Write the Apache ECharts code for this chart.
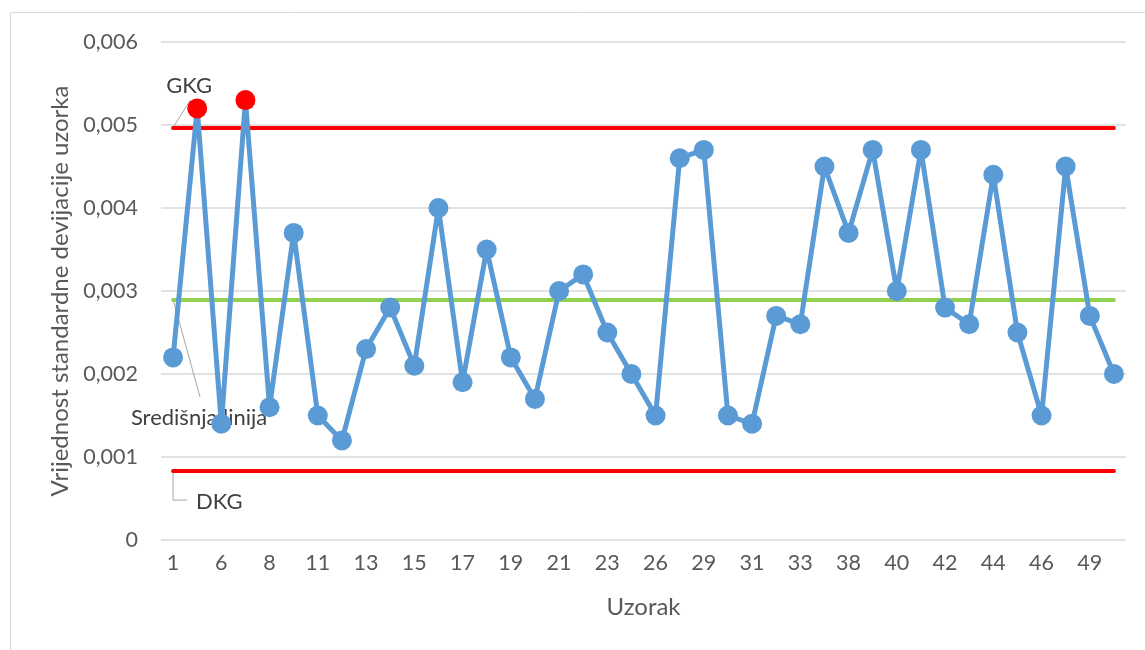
<!DOCTYPE html>
<html>
<head>
<meta charset="utf-8">
<script src="https://cdn.jsdelivr.net/npm/echarts@6/dist/echarts.min.js"></script>
<style>
  html, body { margin: 0; padding: 0; background: #fff; }
  #chart { width: 1145px; height: 650px; }
</style>
</head>
<body>
<div id="chart"></div>
<script>
// sample ids on the x axis (only every other one is labelled)
const categories = ['1', '3', '6', '7', '8', '10', '11', '12', '13', '14', '15', '16', '17', '18', '19', '20',
  '21', '22', '23', '24', '26', '27', '29', '30', '31', '32', '33', '35', '38', '39', '40', '41', '42', '43',
  '44', '45', '46', '47', '49', '50']
// standard deviation per sample
const stdDev = [0.0022, 0.0052, 0.0014, 0.0053, 0.0016, 0.0037, 0.0015, 0.0012, 0.0023, 0.0028, 0.0021, 0.0040,
  0.0019, 0.0035, 0.0022, 0.0017, 0.0030, 0.0032, 0.0025, 0.0020, 0.0015, 0.0046, 0.0047, 0.0015, 0.0014,
  0.0027, 0.0026, 0.0045, 0.0037, 0.0047, 0.0030, 0.0047, 0.0028, 0.0026, 0.0044, 0.0025, 0.0015, 0.0045,
  0.0027, 0.0020]
const UCL = 0.00497
const CL = 0.00290
const LCL = 0.00083
const yTicks = [0, 0.001, 0.002, 0.003, 0.004, 0.005, 0.006]

const FONT = 'Lato'
const TEXT = '#595959'
const chart = echarts.init(document.getElementById('chart'))

const first = categories[0]
const last = categories[categories.length - 1]

function limitLine(value, color, width) {
  return {
    silent: true,
    symbol: 'none',
    label: { show: false },
    lineStyle: { color: color, width: width, type: 'solid', cap: 'round' },
    data: [[{ coord: [first, value] }, { coord: [last, value] }]]
  }
}

chart.setOption({
  animation: false,
  textStyle: { fontFamily: FONT },
  grid: { left: 161, right: 19, top: 42, bottom: 110 },
  xAxis: {
    type: 'category',
    data: categories,
    boundaryGap: true,
    name: 'Uzorak',
    nameLocation: 'middle',
    nameGap: 55,
    nameTextStyle: { color: TEXT, fontSize: 24, fontFamily: FONT },
    axisLine: { show: false },
    axisTick: { show: false },
    axisLabel: { interval: 1, color: TEXT, fontSize: 21.5, margin: 12, fontFamily: FONT }
  },
  yAxis: {
    type: 'value',
    min: yTicks[0],
    max: yTicks[yTicks.length - 1],
    interval: 0.001,
    name: 'Vrijednost standardne devijacije uzorka',
    nameLocation: 'middle',
    nameGap: 86,
    nameTextStyle: { color: TEXT, fontSize: 24, fontFamily: FONT },
    axisLine: { show: false },
    axisTick: { show: false },
    axisLabel: {
      color: TEXT, fontSize: 21.5, margin: 23, fontFamily: FONT,
      formatter: (v) => (v === 0 ? '0' : v.toFixed(3).replace('.', ','))
    },
    splitLine: { lineStyle: { color: '#d9d9d9', width: 1.5 } }
  },
  series: [
    {
      name: 'GKG',
      type: 'line',
      data: [],
      markLine: limitLine(UCL, '#ff0000', 4)
    },
    {
      name: 'DKG',
      type: 'line',
      data: [],
      markLine: limitLine(LCL, '#ff0000', 4)
    },
    {
      name: 'Središnja linija',
      type: 'line',
      data: [],
      markLine: limitLine(CL, '#92d050', 4)
    },
    {
      name: 'Standardna devijacija',
      type: 'line',
      data: stdDev.map((v) => ({
        value: v,
        itemStyle: { color: v > UCL ? '#ff0000' : '#5b9bd5' }
      })),
      symbol: 'circle',
      symbolSize: 20,
      showSymbol: true,
      showAllSymbol: true,
      z: 5,
      lineStyle: { color: '#5b9bd5', width: 5 },
      itemStyle: { color: '#5b9bd5', borderWidth: 0 }
    }
  ]
})

// callout labels for the control lines, anchored at the first sample
function anchor(v) {
  return chart.convertToPixel({ gridIndex: 0 }, [first, v])
}
const a1 = anchor(UCL)
const a2 = anchor(CL)
const a3 = anchor(LCL)
const lead = { stroke: '#a6a6a6', lineWidth: 1 }
const labelStyle = { fill: '#404040', fontSize: 22, fontFamily: FONT }

chart.setOption({
  graphic: [
    {
      type: 'rect', silent: true, z: -10,
      shape: { x: 10.5, y: 12.5, width: 1200, height: 700 },
      style: { fill: 'none', stroke: '#d9d9d9', lineWidth: 1 }
    },
    { type: 'polyline', silent: true, shape: { points: [[a1[0], a1[1]], [a1[0] + 17, a1[1] - 27]] }, style: lead },
    { type: 'text', silent: true, x: a1[0] + 16, y: a1[1] - 42, style: Object.assign({ text: 'GKG', align: 'center', verticalAlign: 'middle' }, labelStyle) },
    { type: 'polyline', silent: true, shape: { points: [[a2[0], a2[1]], [a2[0] + 27, a2[1] + 98]] }, style: lead },
    { type: 'text', silent: true, x: a2[0] + 26, y: a2[1] + 119, style: Object.assign({ text: 'Središnja linija', align: 'center', verticalAlign: 'middle' }, labelStyle) },
    { type: 'polyline', silent: true, shape: { points: [[a3[0], a3[1]], [a3[0], a3[1] + 29], [a3[0] + 14, a3[1] + 29]] }, style: lead },
    { type: 'text', silent: true, x: a3[0] + 23, y: a3[1] + 31, style: Object.assign({ text: 'DKG', align: 'left', verticalAlign: 'middle' }, labelStyle) }
  ]
})
</script>
</body>
</html>
